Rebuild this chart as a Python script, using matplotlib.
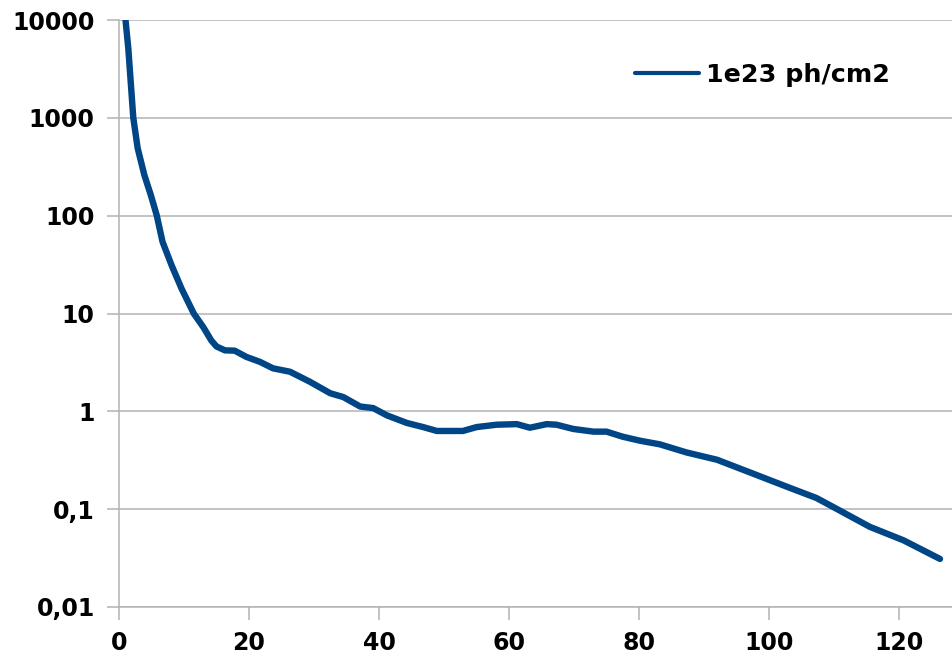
import matplotlib
matplotlib.use("Agg")
import matplotlib.pyplot as plt
from matplotlib.ticker import FixedLocator, FixedFormatter, NullLocator

# Data
depth = [1.0, 1.43, 1.8, 2.2, 2.87, 3.9, 4.9, 5.8, 6.7, 8.1, 9.6, 11.5, 13.0,
         14.2, 15.0, 16.3, 17.8, 19.6, 21.7, 23.7, 26.3, 29.4, 32.5, 34.5, 37.1,
         39.1, 41.2, 44.3, 46.8, 48.9, 52.9, 55.0, 58.1, 61.2, 63.2, 65.8, 67.3,
         69.9, 73.0, 75.0, 77.5, 80.2, 83.2, 87.3, 92.0, 97.6, 102.7, 107.3,
         109.9, 115.5, 120.7, 126.3]
dose = [10000, 5150, 2340, 1000, 490, 260, 162, 101, 54, 31, 18.1, 10, 7.2,
        5.3, 4.6, 4.2, 4.17, 3.6, 3.2, 2.75, 2.54, 2.0, 1.53, 1.40, 1.12,
        1.08, 0.91, 0.76, 0.69, 0.63, 0.63, 0.69, 0.73, 0.74, 0.68, 0.74, 0.73,
        0.66, 0.62, 0.62, 0.55, 0.50, 0.46, 0.38, 0.32, 0.23, 0.17, 0.13,
        0.105, 0.066, 0.048, 0.031]
series_label = "1e23 ph/cm2"

y_ticks = [0.01, 0.1, 1, 10, 100, 1000, 10000]
y_tick_labels = ["0,01", "0,1", "1", "10", "100", "1000", "10000"]
x_ticks = [0, 20, 40, 60, 80, 100, 120]
x_tick_labels = ["0", "20", "40", "60", "80", "100", "120"]

W, H = 953, 660
fig = plt.figure(figsize=(W / 100, H / 100), dpi=100)
left, right, top, bottom = 119, 953, 20, 607
ax = fig.add_axes([left / W, 1 - bottom / H, (right - left) / W, (bottom - top) / H])

line_color = "#004586"
grid_color = "#b3b3b3"

ax.plot(depth, dose, color=line_color, lw=4.6, solid_capstyle="round",
        solid_joinstyle="round", label=series_label)

ax.set_yscale("log")
ax.set_ylim(0.01, 10000)
ax.set_xlim(0, 128.3)

ax.yaxis.set_major_locator(FixedLocator(y_ticks))
ax.yaxis.set_major_formatter(FixedFormatter(y_tick_labels))
ax.yaxis.set_minor_locator(NullLocator())
ax.xaxis.set_major_locator(FixedLocator(x_ticks))
ax.xaxis.set_major_formatter(FixedFormatter(x_tick_labels))

ax.grid(axis="y", color=grid_color, lw=1.1)
ax.set_axisbelow(True)
for s in ["top", "right"]:
    ax.spines[s].set_visible(False)
for s in ["left", "bottom"]:
    ax.spines[s].set_color(grid_color)
    ax.spines[s].set_linewidth(1.1)

ax.tick_params(axis="both", direction="out", length=9, width=1.1, color=grid_color,
               pad=8.5, labelsize=17)
for lab in ax.get_xticklabels() + ax.get_yticklabels():
    lab.set_fontweight("bold")
    lab.set_family("DejaVu Sans")

leg = ax.legend(loc="center left", bbox_to_anchor=(635 / W, 1 - 75 / H),
                bbox_transform=fig.transFigure, frameon=False, borderpad=0,
                borderaxespad=0, handlelength=2.5, handletextpad=0.3,
                prop={"family": "DejaVu Sans", "weight": "bold", "size": 18.3})
for h in leg.get_lines():
    h.set_linewidth(3.0)

fig.savefig("out.png", dpi=100)
